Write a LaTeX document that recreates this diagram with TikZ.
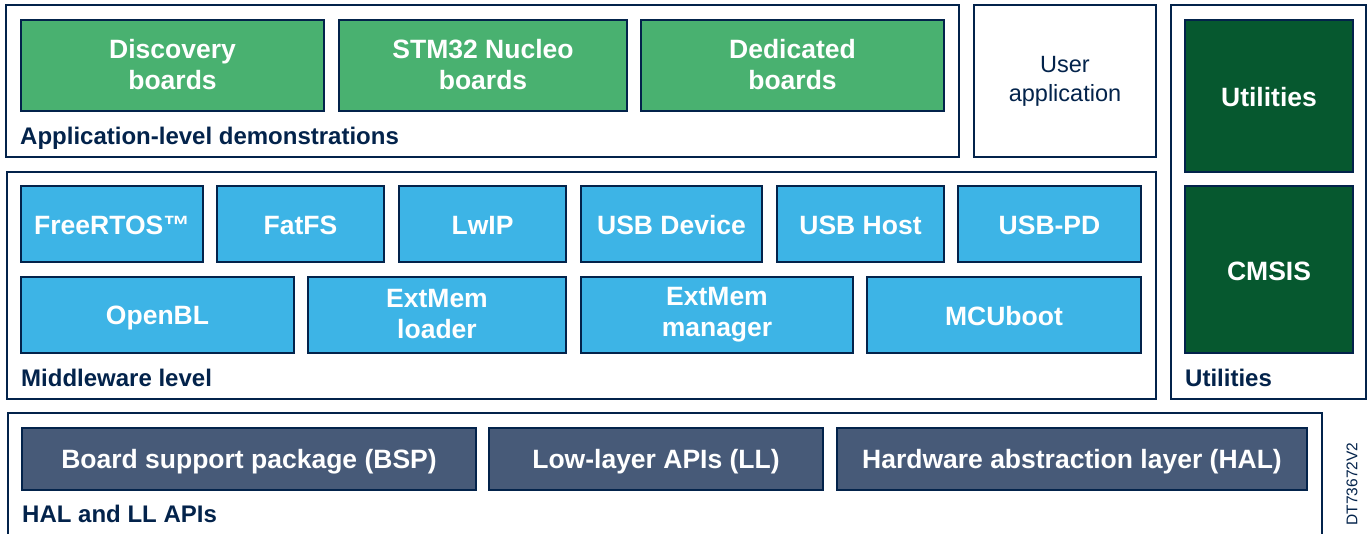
\documentclass[tikz,border=0pt]{standalone}
\usepackage{fontspec}
\setmainfont{Liberation Sans}
\definecolor{stnavy}{HTML}{03234B}
\definecolor{lgreen}{HTML}{49B170}
\definecolor{dgreen}{HTML}{06582F}
\definecolor{lblue}{HTML}{3DB4E6}
\definecolor{slate}{HTML}{475A78}
\newcommand{\bs}{\rule[-3pt]{0pt}{27pt}}
\tikzset{
  frame/.style={draw=stnavy, line width=2.4pt, fill=white, inner sep=0pt},
  boxbase/.style={draw=stnavy, line width=2pt, inner sep=0pt, align=center, text=white,
     font=\fontsize{26.5}{31}\selectfont\bfseries, execute at begin node={\bs}},
  gbox/.style={boxbase, fill=lgreen},
  dbox/.style={boxbase, fill=dgreen},
  bbox/.style={boxbase, fill=lblue},
  sbox/.style={boxbase, fill=slate},
  ubox/.style={draw=stnavy, line width=2.4pt, fill=white, inner sep=0pt, align=center,
     text=stnavy, font=\fontsize{23.5}{29}\selectfont},
  lbl/.style={anchor=base west, inner sep=0pt, text=stnavy, font=\fontsize{24}{28}\selectfont\bfseries},
}
\newcommand{\bx}[7]{\node[#2, minimum width={(#5-#3)*1pt}, minimum height={(#6-#4)*1pt}] (#1) at ({(#3+#5)/2},{(#4+#6)/2}) {#7};}
\begin{document}
\begin{tikzpicture}[x=1pt,y=-1pt]
\useasboundingbox (0,0) rectangle (1370,533);
% frames
\bx{appf}{frame}{6}{5}{959}{157}{}
\bx{user}{ubox}{974}{5}{1156}{157}{User\\application}
\bx{utilf}{frame}{1171}{5}{1366}{399}{}
\bx{midf}{frame}{7}{172}{1156}{399}{}
\coordinate (hbl) at (8,540);
\coordinate (htl) at (8,413);
\coordinate (htr) at (1322,413);
\coordinate (hbr) at (1322,540);
\draw[stnavy, line width=2.4pt] (hbl) -- (htl) -- (htr) -- (hbr);
% application boxes
\bx{disc}{gbox}{21}{20}{324}{111}{Discovery\\\bs boards}
\bx{nucleo}{gbox}{339}{20}{627}{111}{STM32 Nucleo\\\bs boards}
\bx{ded}{gbox}{641}{20}{944}{111}{Dedicated\\\bs boards}
\node[lbl] (applbl) at (20,144) {Application-level demonstrations};
% utilities
\bx{util}{dbox}{1185}{20}{1353}{172}{Utilities}
\bx{cmsis}{dbox}{1185}{186}{1353}{353}{CMSIS}
\node[lbl] (utillbl) at (1185,386) {Utilities};
% middleware
\bx{rtos}{bbox}{21}{186}{203}{262}{FreeRTOS™}
\bx{fatfs}{bbox}{217}{186}{384}{262}{FatFS}
\bx{lwip}{bbox}{399}{186}{566}{262}{LwIP}
\bx{usbd}{bbox}{581}{186}{762}{262}{USB Device}
\bx{usbh}{bbox}{777}{186}{944}{262}{USB Host}
\bx{usbpd}{bbox}{958}{186}{1141}{262}{USB-PD}
\bx{openbl}{bbox}{21}{277}{294}{353}{OpenBL}
\bx{extl}{bbox}{308}{277}{566}{353}{ExtMem\\\bs loader}
\bx{extm}{bbox}{581}{277}{853}{353}{ExtMem\\\bs manager}
\bx{mcuboot}{bbox}{867}{277}{1141}{353}{MCUboot}
\node[lbl] (midlbl) at (21,386) {Middleware level};
% HAL
\bx{bsp}{sbox}{22}{428}{476}{490}{Board support package (BSP)}
\bx{ll}{sbox}{489}{428}{823}{490}{Low-layer APIs (LL)}
\bx{hal}{sbox}{837}{428}{1307}{490}{Hardware abstraction layer (HAL)}
\node[lbl] (hallbl) at (22,522) {HAL and LL APIs};
\node[rotate=90, inner sep=0pt, text=stnavy, font=\fontsize{15.5}{18}\selectfont] (dt) at (1352,484) {DT73672V2};
\end{tikzpicture}
\end{document}
